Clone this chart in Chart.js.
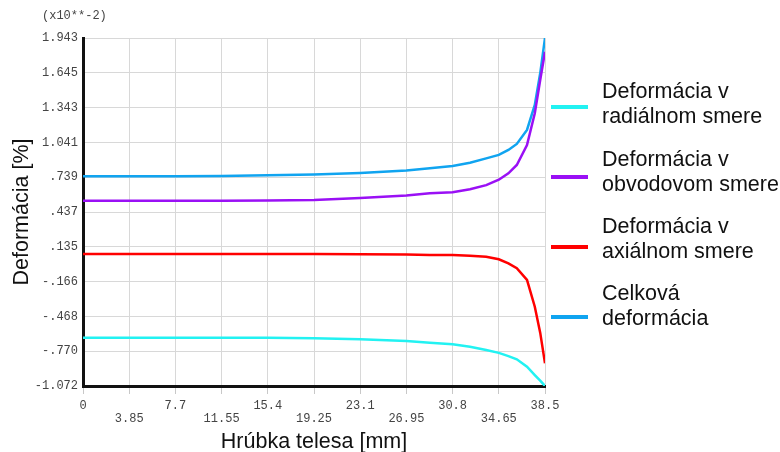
<!DOCTYPE html>
<html>
<head>
<meta charset="utf-8">
<script src="https://cdn.jsdelivr.net/npm/chart.js@4/dist/chart.umd.min.js"></script>
<style>
    body { margin: 0; background: #fff; }
    #wrap { position: relative; width: 780px; height: 452px; font-family: 'Liberation Sans', Arial, sans-serif; }
    #exp { position: absolute; left: 42px; top: 9px; font: 12px 'Liberation Mono', 'DejaVu Sans Mono', monospace; color: #444; }
    .leg-line { position: absolute; left: 551px; width: 37px; height: 4px; }
    .leg-text { position: absolute; left: 602px; font-size: 21.5px; line-height: 25px; color: #111; white-space: nowrap; }
</style>
</head>
<body>
<div id="wrap">
    <canvas id="chart" width="780" height="452"></canvas>
    <div id="exp">(x10**-2)</div>
    <div id="legend"></div>
</div>
<script>
// hrubka telesa [mm]
const xVals = [0, 3.85, 7.7, 11.55, 15.4, 19.25, 23.1, 26.95, 28.9, 30.8, 32.25, 33.6, 34.65, 35.45, 36.15, 37.0, 37.65, 38.1, 38.5];

// deformacia [% x10^-2]
const radialne = [-0.654, -0.654, -0.654, -0.654, -0.655, -0.658, -0.667, -0.683, -0.697, -0.711, -0.732, -0.760, -0.785, -0.813, -0.841, -0.905, -0.977, -1.025, -1.072];
const obvodove = [0.533, 0.533, 0.533, 0.533, 0.535, 0.540, 0.556, 0.579, 0.597, 0.607, 0.632, 0.668, 0.715, 0.771, 0.843, 1.016, 1.291, 1.579, 1.824];
const axialne = [0.072, 0.072, 0.072, 0.072, 0.072, 0.071, 0.070, 0.068, 0.064, 0.063, 0.057, 0.048, 0.026, -0.009, -0.052, -0.153, -0.385, -0.610, -0.875];
const celkova = [0.745, 0.745, 0.746, 0.748, 0.754, 0.760, 0.774, 0.795, 0.814, 0.835, 0.863, 0.900, 0.930, 0.973, 1.025, 1.146, 1.363, 1.637, 1.943];

const xTickLabels = ['0', '3.85', '7.7', '11.55', '15.4', '19.25', '23.1', '26.95', '30.8', '34.65', '38.5'];
const yTickLabels = ['-1.072', '-.770', '-.468', '-.166', '.135', '.437', '.739', '1.041', '1.343', '1.645', '1.943'];
const yMin = -1.072;
const yMax = 1.943;

const seriesLabels = [
    ['Deformácia v', 'radiálnom smere'],
    ['Deformácia v', 'obvodovom smere'],
    ['Deformácia v', 'axiálnom smere'],
    ['Celková', 'deformácia']
];
const seriesValues = [radialne, obvodove, axialne, celkova];
const seriesColors = ['#22f2f2', '#9a10f5', '#ff0000', '#10a4f0'];

// legend placement (line centre y, text top y)
const legendLineY = [107, 177, 247, 317];
const legendTextTop = [79, 147, 214, 281];

const monoFont = "'Liberation Mono', 'DejaVu Sans Mono', monospace";
const sansFont = "'Liberation Sans', Arial, sans-serif";

const datasets = seriesValues.map((vals, i) => ({
    label: seriesLabels[i].join(' '),
    data: vals.map((v, j) => ({ x: xVals[j], y: v })),
    borderColor: seriesColors[i],
    borderWidth: 2.5,
    pointRadius: 0,
    tension: 0,
    fill: false
}));

const chart = new Chart(document.getElementById('chart'), {
    type: 'line',
    data: { datasets },
    options: {
        responsive: false,
        animation: false,
        layout: { padding: { top: 38, right: 235, bottom: 0, left: 0 } },
        plugins: { legend: { display: false }, tooltip: { enabled: false } },
        scales: {
            x: {
                type: 'linear',
                min: 0,
                max: 38.5,
                afterBuildTicks: axis => {
                    axis.ticks = xTickLabels.map(l => ({ value: parseFloat(l) }));
                },
                afterFit: scale => { scale.height = 66; },
                ticks: {
                    autoSkip: false,
                    maxRotation: 0,
                    padding: 5,
                    color: '#444',
                    font: { family: monoFont, size: 12, lineHeight: 1.1 },
                    callback: (value, index) => index % 2 ? ['', xTickLabels[index]] : xTickLabels[index]
                },
                grid: { color: '#d8d8d8', tickColor: '#c8c8c8', tickLength: 8, lineWidth: 1 },
                border: { color: '#111', width: 3 },
                title: {
                    display: true,
                    text: 'Hrúbka telesa [mm]',
                    color: '#111',
                    font: { family: sansFont, size: 21.5, lineHeight: 0.9 },
                    padding: { top: 0, bottom: 0 }
                }
            },
            y: {
                min: yMin,
                max: yMax,
                afterBuildTicks: axis => {
                    const step = (yMax - yMin) / (yTickLabels.length - 1);
                    axis.ticks = yTickLabels.map((l, i) => ({ value: yMin + i * step }));
                },
                afterFit: scale => { scale.width = 83; },
                ticks: {
                    padding: 5,
                    color: '#444',
                    font: { family: monoFont, size: 12 },
                    callback: (value, index) => yTickLabels[index]
                },
                grid: { color: '#d8d8d8', drawTicks: false, lineWidth: 1 },
                border: { color: '#111', width: 3 },
                title: {
                    display: true,
                    text: 'Deformácia [%]',
                    color: '#111',
                    font: { family: sansFont, size: 21.5 },
                    padding: { top: 9, bottom: 0 }
                }
            }
        }
    }
});

// HTML legend with two-line labels
const legend = document.getElementById('legend');
chart.data.datasets.forEach((ds, i) => {
    const line = document.createElement('div');
    line.className = 'leg-line';
    line.style.top = (legendLineY[i] - 2) + 'px';
    line.style.background = ds.borderColor;
    legend.appendChild(line);

    const text = document.createElement('div');
    text.className = 'leg-text';
    text.style.top = legendTextTop[i] + 'px';
    text.innerHTML = seriesLabels[i].join('<br>');
    legend.appendChild(text);
});
</script>
</body>
</html>
